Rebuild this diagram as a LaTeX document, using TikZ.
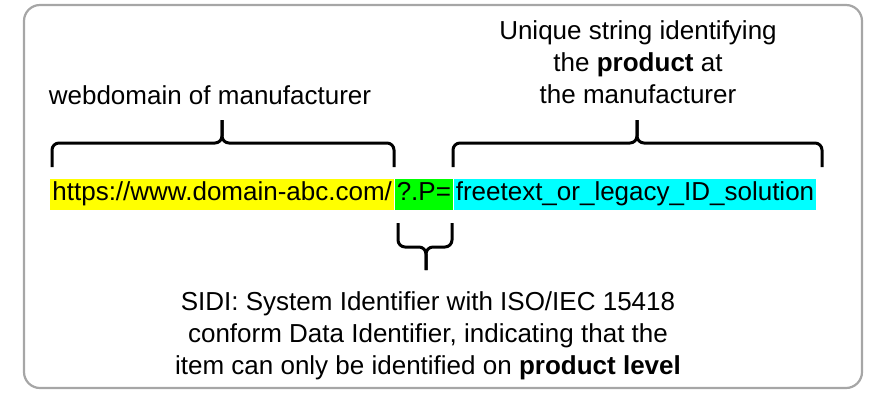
\documentclass[tikz,border=0pt]{standalone}
\usepackage{fontspec}
\setmainfont{Liberation Sans}
\usetikzlibrary{positioning}
\definecolor{urlyellow}{RGB}{255,255,0}
\definecolor{urlgreen}{RGB}{0,255,0}
\definecolor{urlcyan}{RGB}{0,255,255}
\definecolor{framegray}{RGB}{166,166,166}

\begin{document}
\begin{tikzpicture}[
    x=0.5pt, y=-0.5pt,
    part/.style={inner xsep=1pt, inner ysep=1pt, text height=10pt, text depth=3.5pt, font=\fontsize{13}{16}\selectfont},
    lbl/.style={align=center, font=\fontsize{13}{16}\selectfont},
    bracel/.style={line width=1.5pt, rounded corners=3.5pt}
]
\useasboundingbox (0,0) rectangle (874,393);
\draw[framegray, line width=1.1pt, rounded corners=8pt] (24,5) rectangle (862,388);

% the identifier, split in its three parts
\node[part, fill=urlyellow, anchor=west] (domain) at (50,194) {https://www.domain-abc.com/};
\node[part, fill=urlgreen, right=0pt of domain] (sidi) {?.P=};
\node[part, fill=urlcyan, right=0pt of sidi] (serial) {freetext\_or\_legacy\_ID\_solution};

% braces
\coordinate (tipL) at (222,120);
\coordinate (tipR) at (637,120);
\coordinate (tipS) at (426,270);
\draw[bracel] (52,167) |- (222,143) -- (tipL);
\draw[bracel] (394,167) |- (222,143) -- (tipL);
\draw[bracel] (453,167) |- (637,143) -- (tipR);
\draw[bracel] (822,167) |- (637,143) -- (tipR);
\draw[bracel] (398,223) |- (426,247) -- (tipS);
\draw[bracel] (452,223) |- (426,247) -- (tipS);

% labels
\node[lbl] (webdomain) at (210,95) {webdomain of manufacturer};
\node[lbl] (unique) at (638,62) {Unique string identifying\\the \textbf{product} at\\the manufacturer};
\node[lbl] (sidilabel) at (428,336) {SIDI: System Identifier with ISO/IEC 15418\\conform Data Identifier, indicating that the\\item can only be identified on \textbf{product level}};

\end{tikzpicture}
\end{document}
